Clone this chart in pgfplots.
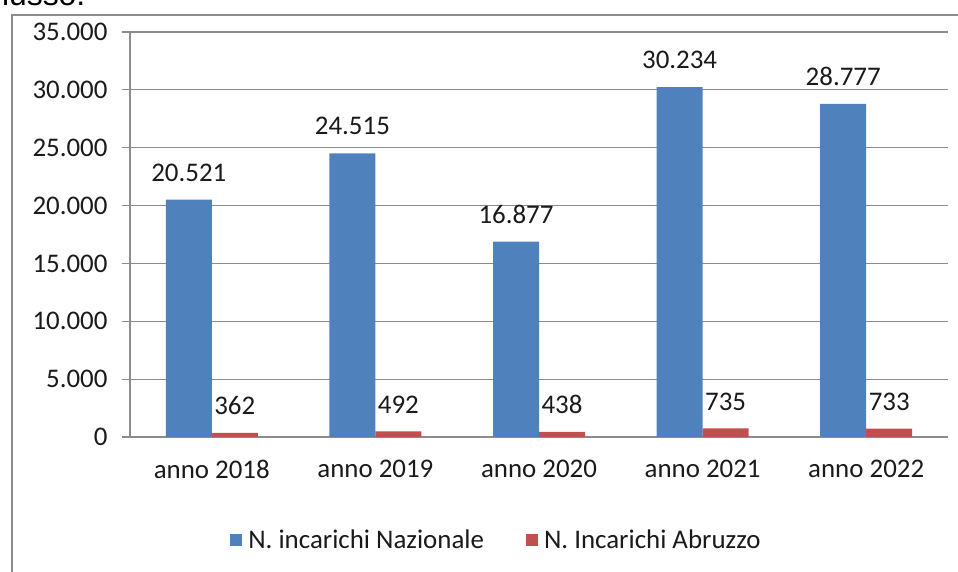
\documentclass[border=0pt]{standalone}
\usepackage{fontspec}
\setmainfont{Carlito}
\newfontfamily\arialfont{Liberation Sans}
\usepackage{pgfplots}
\pgfplotsset{compat=1.18}
\definecolor{cblue}{HTML}{4F81BD}
\definecolor{cred}{HTML}{C0504D}
\definecolor{gridgray}{HTML}{8C8C8C}
\definecolor{txt}{HTML}{1A1A1A}
\begin{document}
\begin{tikzpicture}[x=1bp,y=1bp]
\useasboundingbox (0,0) rectangle (958,572);
\draw[gridgray, line width=1.5bp] (12,-10) rectangle (975,557);
\node[anchor=base west, font=\arialfont\fontsize{32}{36}\selectfont, inner sep=0] at (-7,566) {flusso.};
\begin{axis}[
  at={(130bp,135bp)}, anchor=south west,
  scale only axis, width=818bp, height=405bp,
  xmin=-0.5, xmax=4.5, ymin=0, ymax=35000,
  ytick={0,5000,...,35000},
  scaled y ticks=false,
  /pgf/number format/1000 sep={.},
  /pgf/number format/assume math mode=true,
  xtick={0,1,2,3,4},
  xticklabels={anno 2018,anno 2019,anno 2020,anno 2021,anno 2022},
  xtick style={draw=none},
  extra x ticks={-0.5,0.5,1.5,2.5,3.5,4.5},
  extra x tick labels={},
  extra x tick style={major tick length=8bp, tick align=outside, tick style={gridgray, line width=1.2bp}, grid=none},
  ytick style={gridgray, line width=1.2bp},
  tick align=outside, major tick length=8bp,
  ymajorgrids, grid style={gridgray, line width=1.2bp},
  axis lines*=left,
  axis line style={gridgray, line width=1.2bp},
  tick label style={font=\fontsize{27}{32}\selectfont, text=txt},
  yticklabel style={xshift=-11bp},
  xticklabel style={yshift=-12bp},
  ybar=0pt, bar width=46bp,
  nodes near coords,
  every node near coord/.append style={font=\fontsize{27}{32}\selectfont, text=txt, inner sep=0, anchor=south, yshift=18bp},
  legend style={at={(0.448,-0.254)}, anchor=center, draw=none, font=\fontsize{27}{32}\selectfont, text=txt, legend columns=2, /tikz/every even column/.append style={column sep=40bp}},
  legend image code/.code={\fill[#1] (0bp,-6bp) rectangle (12bp,6bp); \path (16bp,0bp);},
]
\addplot[fill=cblue, draw=none] coordinates {(0,20521) (1,24515) (2,16877) (3,30234) (4,28777)};
\addplot[fill=cred, draw=none] coordinates {(0,362) (1,492) (2,438) (3,735) (4,733)};
\legend{N. incarichi Nazionale, N. Incarichi Abruzzo}
\end{axis}
\end{tikzpicture}
\end{document}
